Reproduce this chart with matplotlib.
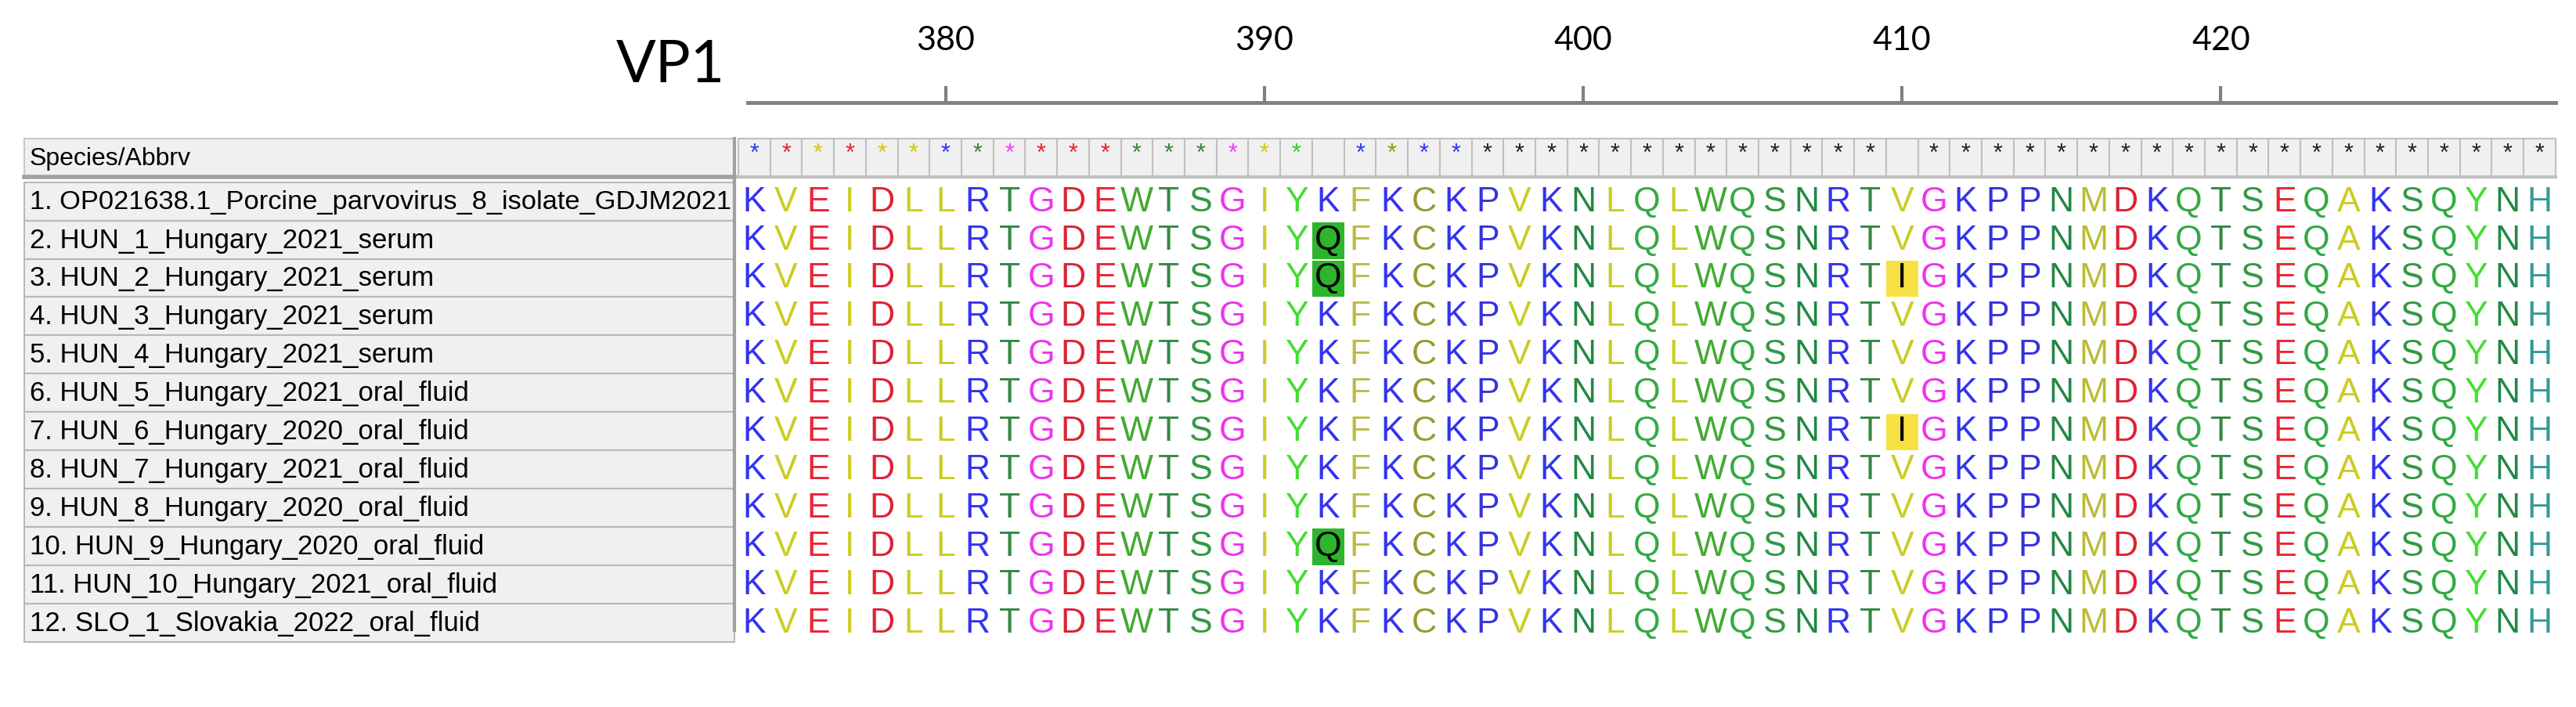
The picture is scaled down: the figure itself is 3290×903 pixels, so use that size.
import matplotlib
matplotlib.use("Agg")
import matplotlib.pyplot as plt
from matplotlib.patches import Rectangle

names = ["1. OP021638.1_Porcine_parvovirus_8_isolate_GDJM2021",
         "2. HUN_1_Hungary_2021_serum", "3. HUN_2_Hungary_2021_serum",
         "4. HUN_3_Hungary_2021_serum", "5. HUN_4_Hungary_2021_serum",
         "6. HUN_5_Hungary_2021_oral_fluid", "7. HUN_6_Hungary_2020_oral_fluid",
         "8. HUN_7_Hungary_2021_oral_fluid", "9. HUN_8_Hungary_2020_oral_fluid",
         "10. HUN_9_Hungary_2020_oral_fluid", "11. HUN_10_Hungary_2021_oral_fluid",
         "12. SLO_1_Slovakia_2022_oral_fluid"]
ref_seq = "KVEIDLLRTGDEWTSGIYKFKCKPVKNLQLWQSNRTVGKPPNMDKQTSEQAKSQYNH"
# substitutions: (row, column, residue, highlight colour)
subs = [(1, 18, "Q", "#2db52d"), (2, 18, "Q", "#2db52d"), (9, 18, "Q", "#2db52d"),
        (2, 36, "I", "#f7e043"), (6, 36, "I", "#f7e043")]
first_pos = 374
ticks = [380, 390, 400, 410, 420]
star_cols = (["#3333ff", "#ee2222", "#cccc00", "#ee2222", "#cccc00", "#cccc00", "#3333ff",
              "#338833", "#ff33ff", "#ee2222", "#ee2222", "#ee2222", "#338833", "#338833",
              "#338833", "#ff33ff", "#cccc00", "#33cc33", None, "#3333ff", "#999900",
              "#3333ff", "#3333ff"] + ["#222222"] * 13 + [None] + ["#222222"] * 20)

aa_col = {"K": "#3333ee", "R": "#3333ee", "P": "#3333dd", "V": "#cccc22", "I": "#cccc22",
          "L": "#cccc22", "M": "#bbbb33", "A": "#cccc22", "F": "#bbbb44", "C": "#999933",
          "E": "#ee2233", "D": "#dd2233", "G": "#ee33ee", "T": "#338844", "S": "#339944",
          "N": "#228844", "Q": "#33aa44", "W": "#44aa33", "Y": "#44dd33", "H": "#339999"}

seqs = [list(ref_seq) for _ in names]
for r, c, a, _ in subs:
    seqs[r][c] = a
hl = {(r, c): col for r, c, _, col in subs}

W, H = 3291, 904
fig = plt.figure(figsize=(W / 100, H / 100), dpi=100)
ax = fig.add_axes([0, 0, 1, 1])
s = W / 1568.0
cw, rh, x0, y0 = 19.4, 23.3, 459, 123
ax.set_xlim(-x0 / cw, (1568 - x0) / cw)
ax.set_ylim((H / s - y0) / rh, -y0 / rh)
ax.axis("off")
n = len(ref_seq)

def px(x):
    return (x - x0) / cw
def py(y):
    return (y - y0) / rh

# ruler
ax.plot([px(455), px(1555)], [py(63), py(63)], color="#808080", lw=3.5)
for t in ticks:
    c = t - first_pos
    ax.plot([c, c], [py(63), py(54)], color="#808080", lw=3)
    ax.text(c, py(25), str(t), ha="center", va="center", fontsize=31, family="Lato")
ax.text(px(408), py(40), "VP1", ha="center", va="center", fontsize=54, family="Lato")

# header row
hy0, hy1 = py(85), py(108)
ax.add_patch(Rectangle((px(15), hy0), px(447) - px(15), hy1 - hy0, fc="#f0f0f0", ec="#c8c8c8", lw=1.5))
ax.plot([px(15), px(447)], [hy1, hy1], color="#a0a0a0", lw=4)
ax.plot([px(447), px(447)], [hy0, py(384)], color="#a0a0a0", lw=3)
ax.text(px(18), (hy0 + hy1) / 2, "Species/Abbrv", ha="left", va="center", fontsize=23,
        family="Liberation Sans")
for c in range(n):
    ax.add_patch(Rectangle((c - 0.5, hy0), 1, hy1 - hy0, fc="#f0f0f0", ec="#c0c0c0", lw=1.5))
    if star_cols[c]:
        ax.text(c, py(94), "*", ha="center", va="center", fontsize=22, color=star_cols[c],
                family="Liberation Sans")
ax.plot([-0.5, n - 0.5], [hy1, hy1], color="#c0c0c0", lw=3)

# rows
for r, nm in enumerate(names):
    ax.add_patch(Rectangle((px(15), r - 0.5), px(447) - px(15), 1, fc="#f0f0f0", ec="#b8b8b8", lw=1.5))
    ax.text(px(18), r, nm, ha="left", va="center", fontsize=25, family="Liberation Sans")
    for c, a in enumerate(seqs[r]):
        if (r, c) in hl:
            ax.add_patch(Rectangle((c - 0.5, r - 0.45), 1, 0.95, fc=hl[(r, c)], ec="none"))
            col = "black"
        else:
            col = aa_col[a]
        ax.text(c, r, a, ha="center", va="center", fontsize=32, color=col, family="Liberation Sans")

# shrink labels to fit the name panel
fig.canvas.draw()
rend = fig.canvas.get_renderer()
maxw = (447 - 18) * s - 4
for t in ax.texts:
    if t.get_text() in names:
        w = t.get_window_extent(rend).width
        if w > maxw:
            t.set_fontsize(t.get_fontsize() * maxw / w)

fig.savefig("out.png", dpi=100)
